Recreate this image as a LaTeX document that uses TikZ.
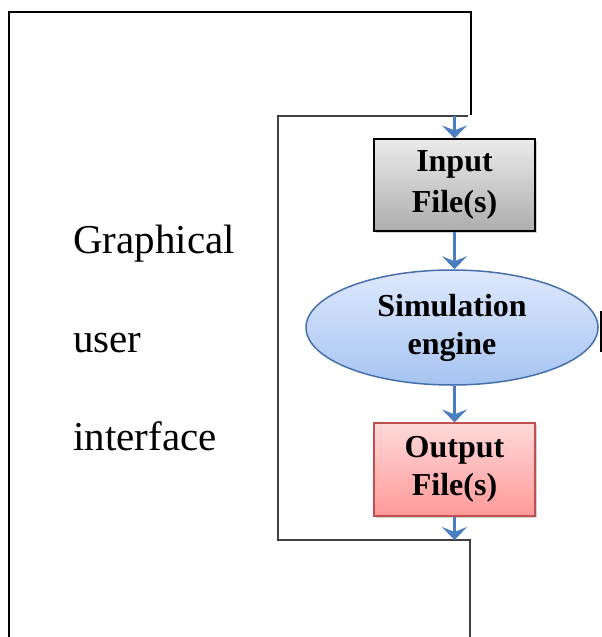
\documentclass[tikz,border=0pt]{standalone}
\usepackage{fontspec}
\setmainfont{Liberation Serif}
\usepackage{pgf,tikz}
\usetikzlibrary{arrows.meta,shapes.geometric,shadows}

\definecolor{flowblue}{RGB}{74,126,190}
\definecolor{ellborder}{RGB}{70,112,172}
\definecolor{elltop}{RGB}{222,232,252}
\definecolor{ellbot}{RGB}{166,196,242}
\definecolor{outborder}{RGB}{192,80,77}

\begin{document}
\begin{tikzpicture}[x=1pt,y=-1pt,>={Stealth[length=13pt,width=25pt,inset=5pt]},
	flow/.style={->,draw=flowblue,line width=3.5pt},
	filebox/.style={rectangle,draw=black,line width=1.2pt,minimum width=161pt,minimum height=92pt,inner sep=0pt,align=center,font=\fontsize{32}{38}\selectfont\bfseries,drop shadow={shadow xshift=2pt,shadow yshift=-2pt,opacity=0.35}},
	guitext/.style={anchor=base west,inner sep=0pt,font=\fontsize{41}{48}\selectfont}]
	\useasboundingbox (0,0) rectangle (602,637);
			% frames
			\draw[line width=1.6pt] (9,637) -- (9,12) -- (471,12) -- (471,115);
			\draw[line width=1.2pt,draw=black!75] (468,116) -- (278,116) -- (278,540) -- (470,540) -- (470,637);
			\draw[line width=1.8pt] (601,311) -- (601,352);
			\coordinate (top) at (454.5,116);
			\coordinate (bot) at (454.5,540);

			\node[guitext] (gui1) at (73,253) {Graphical};
			\node[guitext] (gui2) at (73,352) {user};
			\node[guitext] (gui3) at (73,450) {interface};

			\node[filebox,top color=black!8,bottom color=black!32] (input) at (454.5,185) {Input\\[3pt]File(s)};
			\node[ellipse,draw=ellborder,line width=1.5pt,top color=elltop,bottom color=ellbot,minimum width=292pt,minimum height=115pt,inner sep=0pt,align=center,font=\fontsize{32}{38}\selectfont\bfseries] (sim) at (452,327.5) {Simulation\\engine};
			\node[filebox,draw=outborder,top color=red!15,bottom color=red!40,minimum height=93pt] (output) at (454.5,469.5) {Output\\File(s)};

			\draw[flow] (top) -- (input);
			\draw[flow] (input) -- (input |- sim.north);
			\draw[flow] (sim.south -| output) -- (output);
			\draw[flow] (output) -- (bot);
\end{tikzpicture}
\end{document}
